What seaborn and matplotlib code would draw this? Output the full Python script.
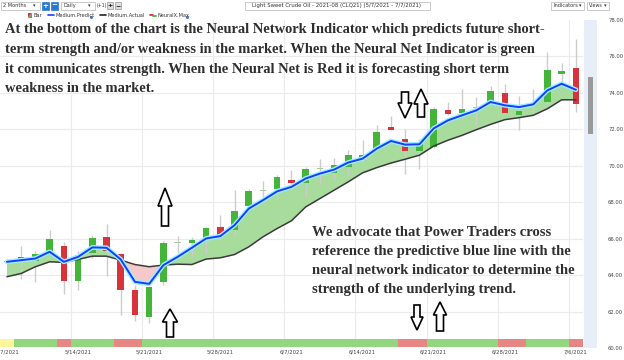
import numpy as np
import pandas as pd
import matplotlib
matplotlib.use("Agg")
import matplotlib.pyplot as plt
from matplotlib.patches import Polygon, Rectangle
import seaborn as sns

# ---------------- data ----------------
open_ = [64.70, 64.97, 64.77, 65.33, 65.60, 63.69, 65.19, 66.10, 65.15, 63.18, 61.72, 63.60, 65.75, 65.74,
         65.92, 66.65, 66.47, 67.80, 68.60, 68.71, 69.24, 69.08, 69.80, 69.63, 69.94, 70.36, 70.88, 72.13,
         71.45, 70.81, 71.05, 73.04, 72.90, 73.18, 73.37, 74.00, 72.77, 73.30, 73.50, 75.05, 75.36]
close = [64.80, 64.77, 65.15, 65.96, 63.69, 65.10, 66.05, 65.33, 63.18, 61.81, 63.36, 65.77, 65.80, 65.92,
         66.59, 66.14, 67.50, 68.60, 68.62, 69.39, 69.06, 69.85, 69.82, 70.06, 70.58, 70.61, 71.85, 71.98,
         70.81, 71.30, 73.13, 72.86, 73.10, 73.20, 74.08, 72.90, 72.99, 73.35, 75.23, 75.18, 73.37]
high = [64.90, 65.60, 65.30, 66.47, 65.80, 65.30, 66.20, 66.80, 65.20, 63.45, 63.40, 65.85, 66.14, 66.10,
        66.65, 67.29, 68.66, 68.75, 69.17, 69.50, 69.75, 69.95, 70.39, 70.45, 70.88, 71.40, 72.22, 72.71,
        72.03, 71.45, 73.20, 73.50, 74.23, 73.77, 74.36, 74.50, 73.82, 74.20, 76.23, 75.63, 76.97]
low = [64.60, 63.80, 63.60, 65.20, 62.94, 63.20, 64.95, 63.95, 61.80, 61.50, 61.37, 63.45, 65.20, 65.00,
       65.20, 65.97, 66.14, 67.75, 68.11, 68.10, 69.00, 68.29, 69.00, 69.30, 69.48, 70.10, 70.80, 71.95,
       69.53, 69.85, 70.95, 72.80, 72.64, 72.22, 73.30, 72.85, 71.98, 72.80, 73.40, 74.60, 72.95]
medium_predict = [64.73, 64.82, 64.91, 65.28, 64.73, 65.00, 65.52, 65.50, 64.86, 63.63, 63.52, 64.55, 65.00,
                  65.50, 66.01, 66.14, 66.74, 67.65, 68.11, 68.60, 68.84, 69.30, 69.57, 69.79, 70.18, 70.39,
                  70.94, 71.36, 71.16, 71.18, 72.05, 72.49, 72.77, 73.04, 73.50, 73.32, 73.22, 73.37, 74.14,
                  74.50, 74.17]
medium_actual = [63.91, 64.09, 64.46, 64.73, 64.70, 64.86, 65.04, 65.04, 64.82, 64.58, 64.46, 64.55, 64.60,
                 64.58, 64.88, 64.95, 65.13, 65.55, 66.10, 66.56, 66.98, 67.74, 68.20, 68.66, 69.12, 69.61,
                 69.90, 70.15, 70.36, 70.58, 71.08, 71.40, 71.67, 71.98, 72.27, 72.53, 72.64, 72.77, 73.13,
                 73.62, 73.62]
neural_signal = (["Y", "G", "G", "G", "R", "G", "G", "G", "R", "R"] + ["G"] * 18 + ["R", "R"]
                 + ["G"] * 5 + ["R", "R"] + ["G"] * 3 + ["R"])
tick_idx = [0, 5, 10, 15, 20, 25, 30, 35, 40]
tick_labels = ["5/7/2021", "5/14/2021", "5/21/2021", "5/28/2021", "6/7/2021", "6/14/2021",
               "6/21/2021", "6/28/2021", "7/6/2021"]
price_ticks = [60, 62, 64, 66, 68, 70, 72, 74, 76, 78]
range_low, range_high = 71.75, 74.85

title = "Light Sweet Crude Oil - 2021-08 (CLQ21) (5/7/2021 - 7/7/2021)"
note1 = ["At the bottom of the chart is the Neural Network Indicator which predicts future short-",
         "term strength and/or weakness in the market. When the Neural Net Indicator is green",
         "it communicates strength. When the Neural Net is Red it is forecasting short term",
         "weakness in the market."]
note2 = ["We advocate that Power Traders cross",
         "reference the predictive blue line with the",
         "neural network indicator to determine the",
         "strength of the underlying trend."]

df = pd.DataFrame({"i": np.arange(len(open_)), "open": open_, "close": close, "high": high, "low": low,
                   "predict": medium_predict, "actual": medium_actual, "signal": neural_signal})

# ---------------- style ----------------
sns.set_theme(style="white")
plt.rcParams["font.family"] = ["DejaVu Sans"]

W, H = 624, 360
fig = plt.figure(figsize=(W / 100, H / 100), dpi=100)
fig.patch.set_facecolor("white")


def fr(x0, y0, x1, y1):
    return [x0 / W, 1 - y1 / H, (x1 - x0) / W, (y1 - y0) / H]


GREEN = "#45b43a"
RED = "#d8333a"
DOJI = "#a9c4a6"

# ---------------- main price axes ----------------
ax = fig.add_axes(fr(0, 20, 583, 348))
ax.set_xlim(-0.49, 40.5)
ax.set_ylim(60, 78)
ax.set_facecolor("white")
for s in ax.spines.values():
    s.set_visible(False)
ax.set_yticks(price_ticks[1:-1])
ax.yaxis.grid(True, color="#ebebeb", lw=0.8)
ax.set_xticks(tick_idx)
ax.set_xticklabels(tick_labels)
ax.set_xticks([t - 0.5 for t in tick_idx[1:]], minor=True)
ax.xaxis.grid(True, which="minor", color="#ebebeb", lw=0.8)
ax.xaxis.grid(False, which="major")
ax.tick_params(axis="y", left=False, labelleft=False)
ax.tick_params(axis="x", which="both", length=0, pad=1.2, labelsize=3.8, labelcolor="#444444")
ax.set_axisbelow(True)

# fill between predicted and actual
p = df["predict"].to_numpy()
a = df["actual"].to_numpy()
ax.fill_between(df["i"], p, a, where=p >= a, interpolate=True, color="#a7dc9d", lw=0, zorder=1)
ax.fill_between(df["i"], p, a, where=p < a, interpolate=True, color="#f5c9c9", lw=0, zorder=1)

# candles
ax.vlines(df["i"], df["low"], df["high"], color="#cccccc", lw=1.0, zorder=2)
body_lo = np.minimum(df["open"], df["close"])
body_h = np.maximum(np.abs(df["close"] - df["open"]), 0.07)
cols = [DOJI if abs(c - o) < 0.05 else (GREEN if c > o else RED) for o, c in zip(df["open"], df["close"])]
ax.bar(df["i"], body_h, bottom=body_lo, width=0.46, color=cols, lw=0, zorder=3)

# lines
sns.lineplot(data=df, x="i", y="actual", ax=ax, color="#3a3a3a", lw=1.1, zorder=4)
sns.lineplot(data=df, x="i", y="predict", ax=ax, color="#98f0ff", lw=3.4, zorder=5)
sns.lineplot(data=df, x="i", y="predict", ax=ax, color="#1b3cff", lw=1.4, zorder=6)
ax.set_xlabel("")
ax.set_ylabel("")

# ---------------- neural indicator strip ----------------
axi = fig.add_axes(fr(0, 339, 583, 347))
axi.set_xlim(-0.49, 40.5)
axi.set_ylim(0, 1)
sig_col = {"G": "#93d680", "R": "#e88585", "Y": "#fff59a"}
axi.bar(df["i"], 1, width=1.0, color=[sig_col[s] for s in df["signal"]], lw=0)
axi.axis("off")

# ---------------- right band with price scale ----------------
axb = fig.add_axes(fr(584, 20, 597, 348))
axb.set_facecolor("#e7eef8")
axb.set_xlim(-1, 1)
axb.set_ylim(60, 78)
axb.bar(0, range_high - range_low, bottom=range_low, width=0.9, color="#9a9a9a", lw=0)
for s in axb.spines.values():
    s.set_visible(False)
axb.set_xticks([])
axb.yaxis.tick_right()
axb.set_yticks(price_ticks)
axb.set_yticklabels([f"{v:.2f}" for v in price_ticks])
axb.tick_params(axis="y", length=0, pad=8, labelsize=3.8, labelcolor="#444444")

# ---------------- overlay (toolbar, notes, arrows) ----------------
ov = fig.add_axes([0, 0, 1, 1], zorder=10)
ov.set_xlim(0, W)
ov.set_ylim(H, 0)
ov.axis("off")
ov.patch.set_alpha(0)

small = dict(fontsize=3.6, color="#333333", va="center")


def box(x0, y0, x1, y1, fc="white", ec="#b5b5b5"):
    ov.add_patch(Rectangle((x0, y0), x1 - x0, y1 - y0, fc=fc, ec=ec, lw=0.5))


box(1, 1.5, 40, 9.5)
ov.text(3, 5.5, "2 Months", **small)
ov.text(33, 5.5, "▾", **small)
box(42, 1.5, 49, 9.5, fc="#2a78d0", ec="#2a78d0")
ov.text(45.5, 5.5, "+", fontsize=5, color="white", ha="center", va="center", weight="bold")
box(51, 1.5, 58, 9.5, fc="#2a78d0", ec="#2a78d0")
ov.text(54.5, 5.3, "−", fontsize=5, color="white", ha="center", va="center", weight="bold")
box(61, 1.5, 95, 9.5)
ov.text(63, 5.5, "Daily", **small)
ov.text(88, 5.5, "▾", **small)
ov.text(96.5, 5.5, "(+1)", fontsize=3.3, color="#333333", va="center")
box(107, 2, 113, 9, fc="#dddddd", ec="#999999")
ov.text(110, 5.5, "+", fontsize=4.5, color="#111111", ha="center", va="center", weight="bold")
box(115, 2, 121, 9, fc="#dddddd", ec="#999999")
ov.text(118, 5.3, "−", fontsize=4.5, color="#111111", ha="center", va="center", weight="bold")
box(245, 1.5, 430, 9.5)
ov.text(337, 5.5, title, ha="center", fontsize=3.9, color="#333333", va="center")
box(551, 1.5, 584, 9.5)
ov.text(553, 5.5, "Indicators", **small)
ov.text(579, 5.5, "▾", **small)
box(587, 1.5, 609, 9.5)
ov.text(589, 5.5, "Views", fontsize=3.4, color="#333333", va="center")
ov.text(603.5, 5.5, "▾", **small)

# legend row
ov.add_patch(Polygon([[28, 13], [32, 13], [28, 17.5]], closed=True, fc=RED, ec="none"))
ov.add_patch(Polygon([[32, 13], [32, 17.5], [28, 17.5]], closed=True, fc=GREEN, ec="none"))
ov.text(34, 15.3, "Bar", **small)
ov.plot([48, 54], [15, 15], color="#1b3cff", lw=1.2)
ov.text(56, 15.3, "Medium.Predict", **small)
ov.plot([90.5], [16.5], marker="o", ms=1.2, color="#3a7bd5")
ov.plot([100, 106], [15, 15], color="#222222", lw=1.2)
ov.text(108, 15.3, "Medium.Actual", **small)
ov.plot([150, 153], [14.5, 14.5], color=RED, lw=1.3)
ov.plot([153, 156], [16, 16], color=GREEN, lw=1.3)
ov.text(158, 15.3, "NeuralX.Max", **small)
ov.plot([186.5], [16.5], marker="o", ms=1.2, color="#3a7bd5")

# notes
serif = dict(family=["Liberation Serif", "DejaVu Serif"], weight="bold", color="#2f2f2f")
t1 = [ov.text(5, y, s, ha="left", va="center", fontsize=10, **serif)
      for s, y in zip(note1, [30, 49.5, 69, 88.5])]
t2 = [ov.text(312, y, s, ha="left", va="center", fontsize=10, **serif)
      for s, y in zip(note2, [232, 251, 270, 289])]
fig.canvas.draw()
r = fig.canvas.get_renderer()
for group, ref, target in [(t1, 0, 543), (t2, 1, 260)]:
    w = group[ref].get_window_extent(r).width
    fs = 10 * target / w
    for t in group:
        t.set_fontsize(fs)


# hollow block arrows
def block_arrow(cx, tip, tail, head_w=14, shaft_w=7, head_len=16):
    d = 1 if tail > tip else -1  # up-arrow if tail below tip (pixel y downward)
    hb = tip + d * head_len
    pts = [[cx, tip], [cx + head_w / 2, hb], [cx + shaft_w / 2, hb], [cx + shaft_w / 2, tail],
           [cx - shaft_w / 2, tail], [cx - shaft_w / 2, hb], [cx - head_w / 2, hb]]
    ov.add_patch(Polygon(pts, closed=True, fc="white", ec="black", lw=1.2, joinstyle="miter"))


block_arrow(165, 188, 226, head_w=14, shaft_w=7, head_len=18)
block_arrow(170, 309, 337, head_w=15, shaft_w=7, head_len=13)
block_arrow(405, 118, 92, head_w=14, shaft_w=7, head_len=15)
block_arrow(421, 89, 117, head_w=14, shaft_w=7, head_len=15)
block_arrow(417, 330, 305, head_w=12, shaft_w=6, head_len=13)
block_arrow(440, 302, 331, head_w=13, shaft_w=7, head_len=13)

fig.savefig("out.png", dpi=100, facecolor="white")
